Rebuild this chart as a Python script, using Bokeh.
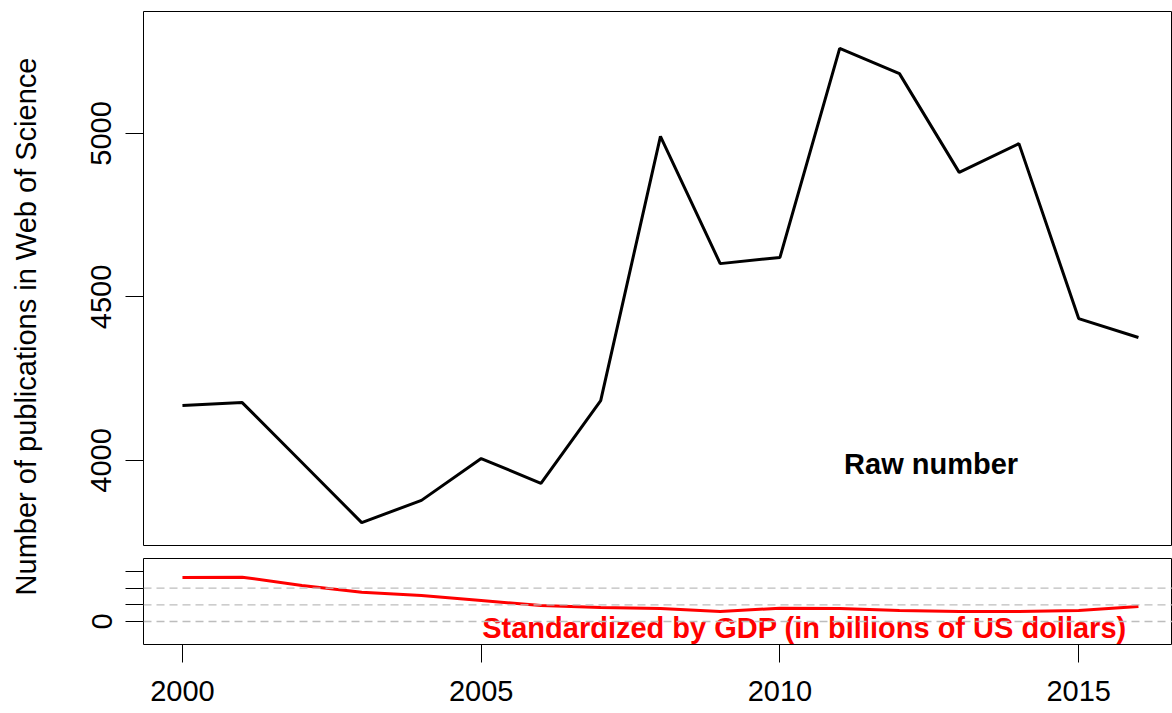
import math
from bokeh.plotting import figure
from bokeh.layouts import row, column
from bokeh.models import Range1d, Span, FixedTicker
from bokeh.core.properties import value
from bokeh.embed import file_html
from bokeh.resources import INLINE

# ---- data ----
years = list(range(2000, 2017))
raw_pubs = [4168, 4177, 3994, 3810, 3878, 4006, 3930, 4183, 4991, 4602,
            4621, 5260, 5183, 4881, 4969, 4434, 4376]
per_gdp = [13.2, 13.3, 10.8, 8.8, 7.8, 6.3, 4.8, 4.2, 3.9, 3.0,
           4.0, 3.9, 3.3, 3.0, 3.0, 3.3, 4.5]
top_ticks = [4000, 4500, 5000]
bottom_ticks = [0, 5, 10, 15]
bottom_tick_labels = {5: "", 10: "", 15: ""}
x_ticks = [2000, 2005, 2010, 2015]
ref_lines = [0, 5, 10]

ylabel = "Number of publications in Web of Science"
raw_label = "Raw number"
gdp_label = "Standardized by GDP (in billions of US dollars)"

FONT = "Liberation Sans"
FS = "29px"

xr = Range1d(1999.348, 2016.57)


def style(p):
    p.xgrid.visible = False
    p.ygrid.visible = False
    p.outline_line_color = "black"
    p.outline_line_width = 1
    p.outline_line_alpha = 1
    p.background_fill_color = "white"
    p.border_fill_color = "white"


def style_axis(ax, ticks, orientation="horizontal", standoff=10):
    ax.ticker = FixedTicker(ticks=ticks, minor_ticks=[])
    ax.major_tick_out = 18
    ax.major_tick_in = 0
    ax.minor_tick_out = 0
    ax.minor_tick_in = 0
    ax.major_tick_line_color = "black"
    ax.major_tick_line_width = 1
    ax.axis_line_color = None
    ax.major_label_orientation = orientation
    ax.major_label_standoff = standoff
    ax.major_label_text_font = FONT
    ax.major_label_text_font_size = FS
    ax.major_label_text_color = "black"


# ---- y label figure ----
p0 = figure(width=44, height=713, x_range=Range1d(0, 44), y_range=Range1d(0, 713),
            output_backend="svg", toolbar_location=None,
            x_axis_location=None, y_axis_location=None,
            min_border_left=0, min_border_right=0, min_border_top=0, min_border_bottom=0)
p0.outline_line_color = None
p0.xgrid.visible = False
p0.ygrid.visible = False
p0.text(x=[25], y=[387], text=[ylabel], angle=math.pi / 2,
        text_font=value(FONT), text_font_size=FS, text_color="black",
        text_align="center", text_baseline="middle")

# ---- top panel ----
p1 = figure(width=1128, height=551, x_range=xr, y_range=Range1d(3740, 5373),
            output_backend="svg", toolbar_location=None, x_axis_location=None,
            min_border_left=99, min_border_right=0, min_border_top=11, min_border_bottom=6)
style(p1)
style_axis(p1.yaxis[0], top_ticks, "vertical", 14)
p1.line(years, raw_pubs, line_color="black", line_width=3)
p1.text(x=[2012.53], y=[3988], text=[raw_label],
        text_font=value(FONT), text_font_size=FS, text_font_style="bold",
        text_color="black", text_align="center", text_baseline="middle")

# ---- bottom panel ----
p2 = figure(width=1128, height=162, x_range=xr, y_range=Range1d(-6.9, 18.9),
            output_backend="svg", toolbar_location=None,
            min_border_left=99, min_border_right=0, min_border_top=7, min_border_bottom=69)
style(p2)
style_axis(p2.yaxis[0], bottom_ticks, "vertical", 14)
p2.yaxis[0].major_label_overrides = bottom_tick_labels
style_axis(p2.xaxis[0], x_ticks, "horizontal", 18)
for v in ref_lines:
    p2.add_layout(Span(location=v, dimension="width", line_color="#bdbdbd",
                       line_width=1.3, line_dash="8 5"))
p2.line(years, per_gdp, line_color="red", line_width=3)
p2.text(x=[2010.41], y=[-2.0], text=[gdp_label],
        text_font=value(FONT), text_font_size=FS, text_font_style="bold",
        text_color="red", text_align="center", text_baseline="middle")

layout = row(p0, column(p1, p2))
open("out.html", "w").write(file_html(layout, INLINE))
